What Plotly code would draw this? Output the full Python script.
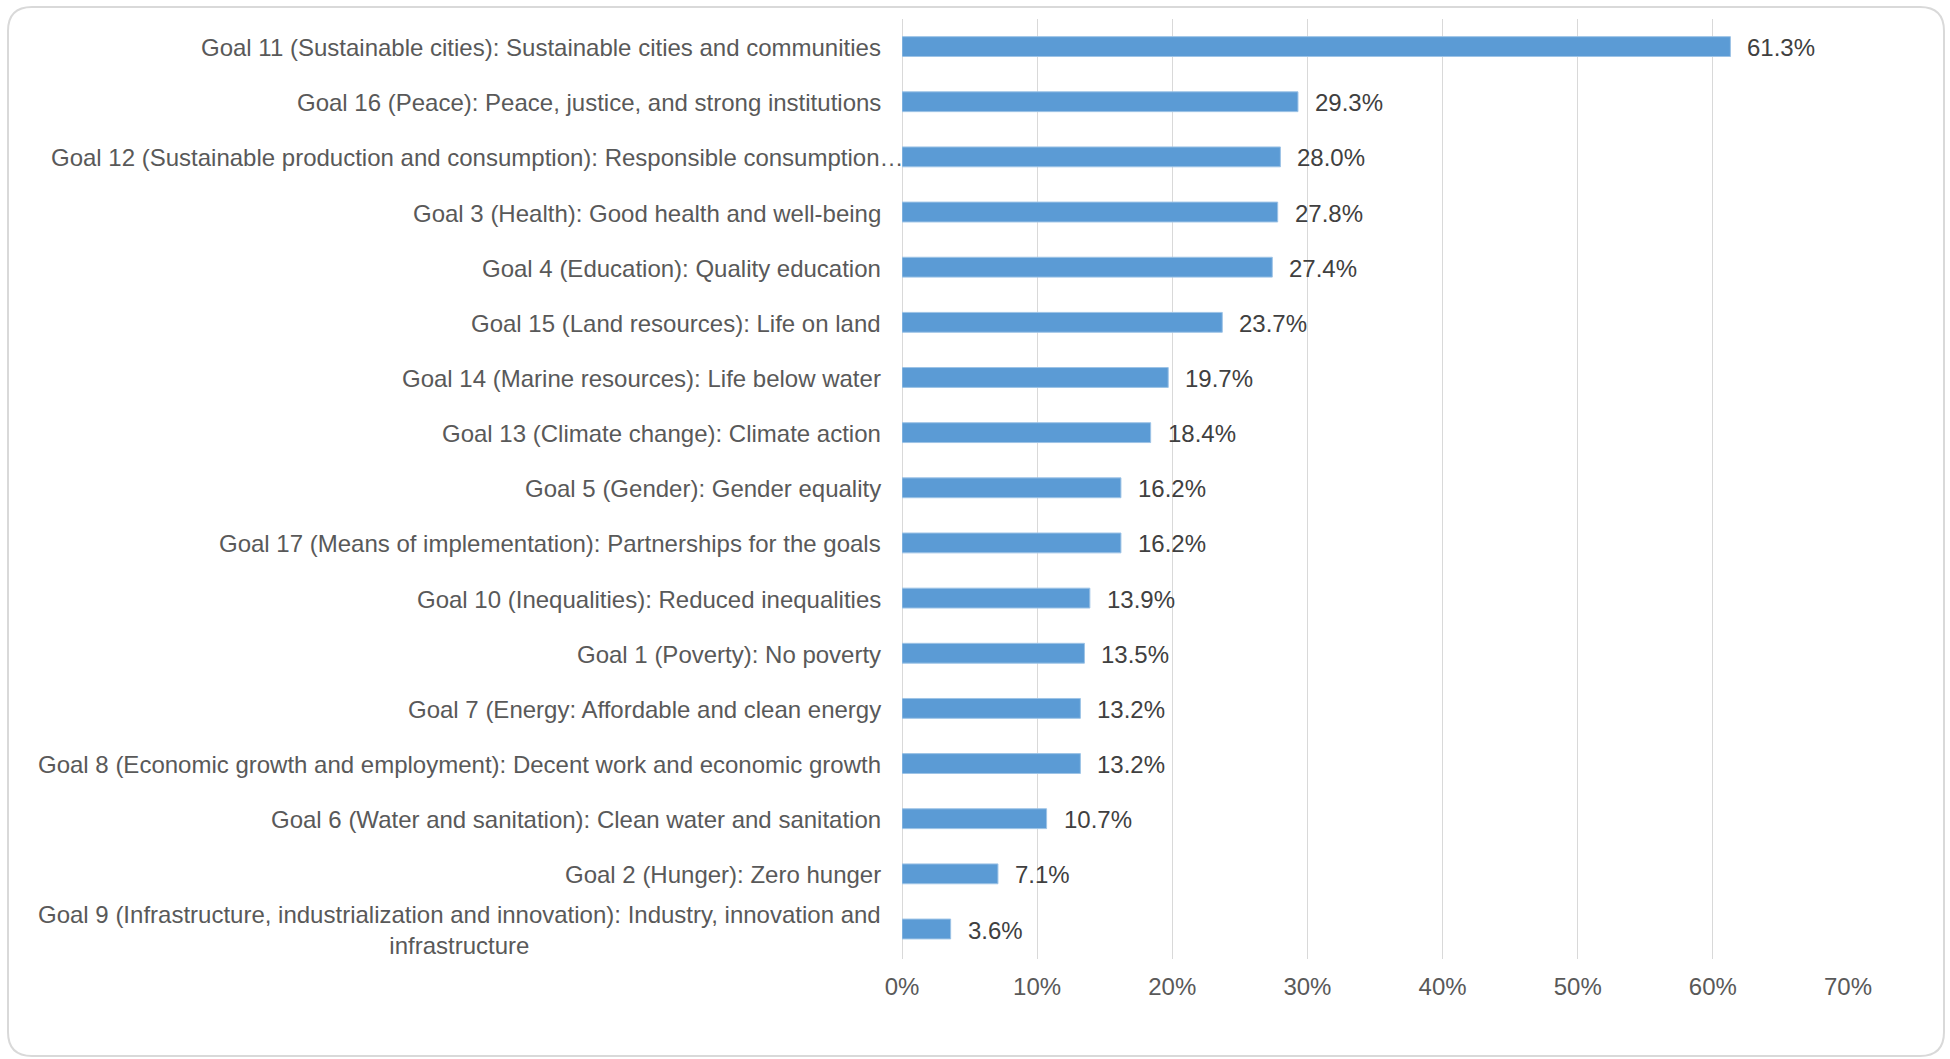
import plotly.graph_objects as go

# Share of respondents citing each Sustainable Development Goal (top to bottom)
goals = [
    "Goal 11 (Sustainable cities): Sustainable cities and communities",
    "Goal 16 (Peace): Peace, justice, and strong institutions",
    "Goal 12 (Sustainable production and consumption): Responsible consumption…",
    "Goal 3 (Health): Good health and well-being",
    "Goal 4 (Education): Quality education",
    "Goal 15 (Land resources): Life on land",
    "Goal 14 (Marine resources): Life below water",
    "Goal 13 (Climate change): Climate action",
    "Goal 5 (Gender): Gender equality",
    "Goal 17 (Means of implementation): Partnerships for the goals",
    "Goal 10 (Inequalities): Reduced inequalities",
    "Goal 1 (Poverty): No poverty",
    "Goal 7 (Energy: Affordable and clean energy",
    "Goal 8 (Economic growth and employment): Decent work and economic growth",
    "Goal 6 (Water and sanitation): Clean water and sanitation",
    "Goal 2 (Hunger): Zero hunger",
    "Goal 9 (Infrastructure, industrialization and innovation): Industry, innovation and<br>infrastructure",
]
shares = [0.613, 0.293, 0.280, 0.278, 0.274, 0.237, 0.197, 0.184, 0.162, 0.162,
          0.139, 0.135, 0.132, 0.132, 0.107, 0.071, 0.036]
x_ticks = [0, 0.1, 0.2, 0.3, 0.4, 0.5, 0.6, 0.7]

W, H = 1950, 1059
ML, MR, MT, MB = 902, 102, 19, 100
FONT = "Liberation Sans, Arial, sans-serif"
BAR = "#5B9BD5"
GRID = "#D9D9D9"

fig = go.Figure(
    go.Bar(
        x=shares,
        y=goals,
        orientation="h",
        width=0.36,
        marker=dict(color=BAR, line=dict(color="#9DC3E6", width=1)),
        hoverinfo="skip",
    )
)

# category labels on the left (the last one wraps onto a centred second line)
for g in goals:
    truncated = g.endswith("…")
    fig.add_annotation(
        x=0, xref="paper", y=g, yref="y",
        text=g, showarrow=False,
        xanchor="right", yanchor="middle", align="center",
        xshift=4 if truncated else -19, yshift=-1,
        font=dict(family=FONT, size=24, color="#595959"),
    )

# value labels to the right of each bar
for g, v in zip(goals, shares):
    fig.add_annotation(
        x=v, y=g, text=f"{v * 100:.1f}%", showarrow=False,
        xanchor="left", yanchor="middle", xshift=15, yshift=-1,
        font=dict(family=FONT, size=24, color="#404040"),
    )

# rounded chart-area border
def px_to_paper(px, py):
    return (px - ML) / (W - ML - MR), (H - MB - py) / (H - MT - MB)

def P(px, py):
    a, b = px_to_paper(px, py)
    return f"{a:.5f},{b:.5f}"

x0, y0, x1, y1, r = 8, 7, 1944, 1056, 24
path = (
    f"M {P(x0 + r, y0)} L {P(x1 - r, y0)} Q {P(x1, y0)} {P(x1, y0 + r)} "
    f"L {P(x1, y1 - r)} Q {P(x1, y1)} {P(x1 - r, y1)} "
    f"L {P(x0 + r, y1)} Q {P(x0, y1)} {P(x0, y1 - r)} "
    f"L {P(x0, y0 + r)} Q {P(x0, y0)} {P(x0 + r, y0)} Z"
)
fig.add_shape(type="path", xref="paper", yref="paper", path=path,
              line=dict(color="#D9D9D9", width=2), fillcolor="rgba(0,0,0,0)", layer="below")

fig.update_layout(
    width=W, height=H,
    margin=dict(l=ML, r=MR, t=MT, b=MB, pad=0),
    paper_bgcolor="white", plot_bgcolor="white",
    showlegend=False,
    font=dict(family=FONT, size=24, color="#595959"),
    xaxis=dict(
        range=[0, 0.7], tickvals=x_ticks, tickformat=".0%",
        showgrid=True, gridcolor=GRID, gridwidth=1,
        zeroline=True, zerolinecolor=GRID, zerolinewidth=1,
        showline=False, ticks="", ticklabelstandoff=11,
        tickfont=dict(family=FONT, size=24, color="#595959"),
        fixedrange=True,
    ),
    yaxis=dict(
        categoryorder="array", categoryarray=goals, autorange="reversed",
        showticklabels=False, showgrid=False, zeroline=False, showline=False, ticks="",
        fixedrange=True,
    ),
)

fig.write_html("out.html", config={"displayModeBar": False})
